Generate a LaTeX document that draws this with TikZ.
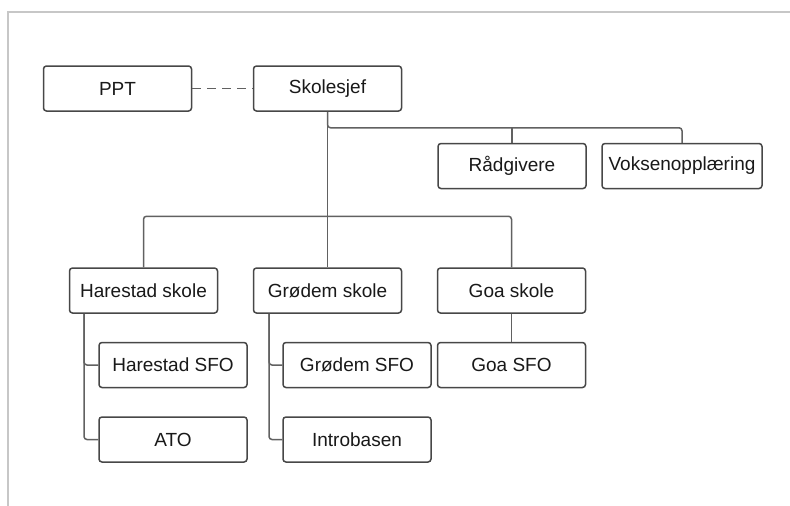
\documentclass[tikz,border=0pt]{standalone}
\usepackage{fontspec}
\setmainfont{Liberation Sans}
\usetikzlibrary{positioning}

\tikzset{
  unit/.style={draw=black!72, line width=1.5pt, rounded corners=3pt, fill=white,
    minimum width=148pt, minimum height=45pt, inner sep=2pt, text=black!90,
    font=\fontsize{19}{22}\selectfont},
  conn/.style={draw=black!62, line width=1.5pt, rounded corners=3pt},
}

\begin{document}
\begin{tikzpicture}[x=1pt, y=-1pt]
          \useasboundingbox (0,0) rectangle (790,506);
          \draw[black!22, line width=2.5pt] (8,506) -- (8,12) -- (790,12);

          \node[unit] (ppt) at (117.5,88.5) {PPT};
          \node[unit] (skolesjef) at (327.5,88.5) {Skolesjef};
          \node[unit] (raadgivere) at (512,166) {Rådgivere};
          \node[unit, minimum width=160pt] (voksen) at (682,166) {Voksenopplæring};

          \node[unit] (harestad) at (143.5,290.5) {Harestad skole};
          \node[unit] (grodem) at (327.5,290.5) {Grødem skole};
          \node[unit] (goa) at (511.5,290.5) {Goa skole};

          \node[unit] (harestadsfo) at (173,365) {Harestad SFO};
          \node[unit] (grodemsfo) at (357,365) {Grødem SFO};
          \node[unit] (goasfo) at (511.5,365) {Goa SFO};
          \node[unit] (ato) at (173,439.5) {ATO};
          \node[unit] (introbasen) at (357,439.5) {Introbasen};

          \draw[conn, dashed, dash pattern=on 9pt off 6pt] (ppt) -- (skolesjef);
          \draw[conn] (skolesjef.south) -- ++(0,16) -| (voksen.north);
          \draw[conn] (raadgivere.north) -- ++(0,-16);
          \draw[conn] (skolesjef.south) -- (grodem.north);
          \draw[conn] (harestad.north) -- ++(0,-51) -| (goa.north);
          \draw[conn] ([xshift=-59.5pt]harestad.south) |- (harestadsfo.west);
          \draw[conn] ([xshift=-59.5pt]harestad.south) |- (ato.west);
          \draw[conn] ([xshift=-58.5pt]grodem.south) |- (grodemsfo.west);
          \draw[conn] ([xshift=-58.5pt]grodem.south) |- (introbasen.west);
          \draw[conn] (goa) -- (goasfo);
        \end{tikzpicture}
\end{document}
